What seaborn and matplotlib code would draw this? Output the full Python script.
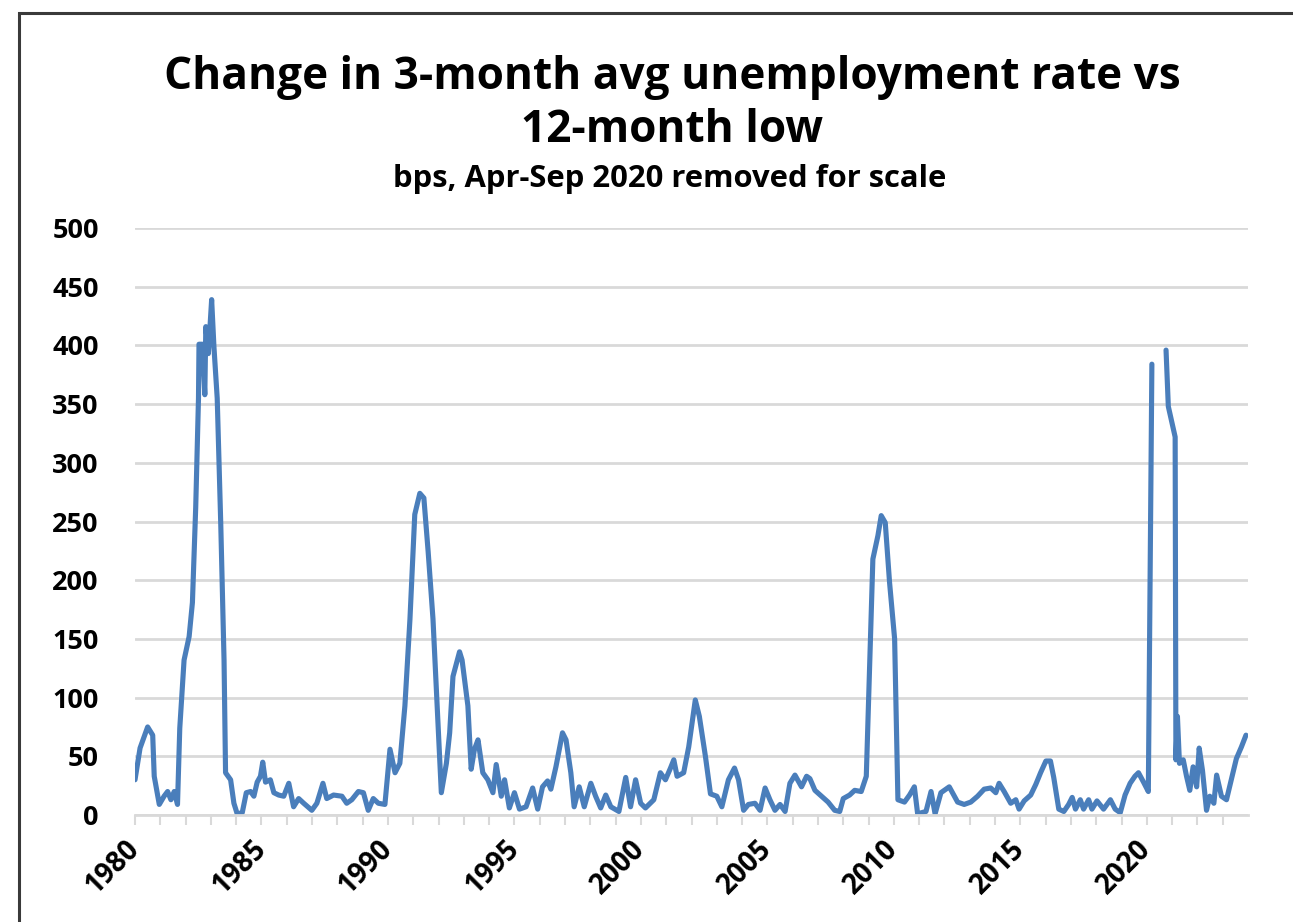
import matplotlib
matplotlib.use('Agg')
import matplotlib.pyplot as plt
import matplotlib.transforms as mtransforms
from matplotlib.patches import Rectangle
import numpy as np
import pandas as pd
import seaborn as sns

TITLE = 'Change in 3-month avg unemployment rate vs\n12-month low'
SUBTITLE = 'bps, Apr-Sep 2020 removed for scale'

# decimal year, value (NaN = Apr-Sep 2020 gap)
years = [
    1980.00, 1980.20, 1980.50, 1980.70, 1980.76, 1980.96, 1981.15, 1981.29,
    1981.42, 1981.55, 1981.68, 1981.77, 1981.94, 1982.14, 1982.27, 1982.40,
    1982.51, 1982.53, 1982.66, 1982.76, 1982.80, 1982.90, 1983.03, 1983.12,
    1983.25, 1983.39, 1983.52, 1983.58, 1983.78, 1983.91, 1984.04, 1984.24,
    1984.40, 1984.57, 1984.70, 1984.83, 1984.96, 1985.05, 1985.16, 1985.35,
    1985.49, 1985.68, 1985.88, 1986.08, 1986.27, 1986.47, 1986.67, 1986.99,
    1987.19, 1987.43, 1987.58, 1987.85, 1988.18, 1988.37, 1988.57, 1988.83,
    1989.03, 1989.22, 1989.42, 1989.62, 1989.88, 1990.08, 1990.28, 1990.47,
    1990.67, 1990.87, 1991.06, 1991.26, 1991.42, 1991.59, 1991.78, 1991.94,
    1992.11, 1992.31, 1992.44, 1992.57, 1992.83, 1992.93, 1993.16, 1993.29,
    1993.42, 1993.56, 1993.75, 1993.95, 1994.15, 1994.28, 1994.48, 1994.61,
    1994.80, 1995.00, 1995.20, 1995.46, 1995.72, 1995.92, 1996.11, 1996.31,
    1996.44, 1996.64, 1996.90, 1997.04, 1997.23, 1997.36, 1997.56, 1997.76,
    1998.02, 1998.21, 1998.41, 1998.61, 1998.81, 1999.13, 1999.40, 1999.59,
    1999.79, 1999.99, 2000.18, 2000.51, 2000.77, 2000.97, 2001.17, 2001.30,
    2001.43, 2001.69, 2001.89, 2002.15, 2002.31, 2002.55, 2002.75, 2003.00,
    2003.20, 2003.46, 2003.70, 2003.86, 2004.06, 2004.25, 2004.51, 2004.71,
    2004.91, 2005.10, 2005.30, 2005.50, 2005.70, 2005.89, 2006.09, 2006.35,
    2006.55, 2006.68, 2006.88, 2007.14, 2007.40, 2007.66, 2007.86, 2008.00,
    2008.25, 2008.45, 2008.71, 2008.91, 2009.04, 2009.17, 2009.37, 2009.50,
    2009.66, 2009.83, 2010.03, 2010.16, 2010.42, 2010.62, 2010.81, 2010.94,
    2011.27, 2011.47, 2011.63, 2011.86, 2012.19, 2012.52, 2012.78, 2013.04,
    2013.31, 2013.57, 2013.83, 2014.03, 2014.16, 2014.36, 2014.62, 2014.82,
    2014.95, 2015.15, 2015.41, 2015.61, 2015.80, 2016.01, 2016.19, 2016.32,
    2016.52, 2016.72, 2016.91, 2017.05, 2017.18, 2017.37, 2017.50, 2017.70,
    2017.83, 2018.03, 2018.29, 2018.56, 2018.75, 2018.95, 2019.14, 2019.34,
    2019.53, 2019.67, 2019.87, 2020.06, 2020.20, 2020.50, 2020.76, 2020.85,
    2021.12, 2021.15, 2021.21, 2021.29, 2021.44, 2021.57, 2021.70, 2021.83,
    2021.97, 2022.07, 2022.20, 2022.36, 2022.49, 2022.65, 2022.76, 2022.95,
    2023.15, 2023.35, 2023.54, 2023.74, 2023.92,
]
bps = [
    30, 57, 75, 68, 33, 9, 16, 20,
    13, 20, 9, 74, 132, 152, 181, 262,
    355, 401, 401, 358, 416, 393, 439, 399,
    355, 248, 132, 36, 30, 10, 1, 2,
    19, 20, 16, 28, 33, 45, 28, 30,
    19, 17, 16, 27, 7, 14, 10, 4,
    10, 27, 14, 17, 16, 10, 13, 20,
    19, 4, 14, 10, 9, 56, 36, 44,
    93, 167, 256, 274, 270, 224, 167, 96,
    19, 44, 70, 118, 139, 132, 93, 39,
    56, 64, 36, 30, 19, 43, 16, 30,
    6, 19, 5, 7, 23, 5, 24, 29,
    22, 41, 70, 64, 36, 7, 24, 7,
    27, 16, 6, 17, 7, 3, 32, 7,
    30, 10, 6, 13, 36, 30, 40, 47,
    33, 36, 58, 98, 84, 50, 18, 16,
    7, 30, 40, 30, 4, 9, 10, 4,
    23, 13, 4, 9, 3, 27, 34, 24,
    33, 31, 21, 16, 11, 4, 3, 14,
    17, 21, 20, 33, 127, 218, 238, 255,
    249, 198, 150, 13, 11, 17, 24, 1,
    3, 20, 1, 19, 24, 11, 9, 11,
    16, 22, 23, 19, 27, 20, 10, 13,
    5, 12, 17, 26, 36, 46, 46, 32,
    5, 3, 9, 15, 5, 13, 5, 13,
    5, 12, 5, 13, 5, 2, 17, 27,
    33, 36, 28, 20, 384, np.nan, 396, 348,
    322, 47, 84, 44, 47, 33, 21, 41,
    24, 57, 38, 4, 16, 10, 34, 16,
    13, 31, 48, 58, 68,
]

y_ticks = [0, 50, 100, 150, 200, 250, 300, 350, 400, 450, 500]
year_ticks = list(range(1980, 2024))
label_years = [1980, 1985, 1990, 1995, 2000, 2005, 2010, 2015, 2020]

LINE_COLOR = '#4a7ebb'
GRID_COLOR = '#d9d9d9'

sns.set_theme(style='white')
plt.rcParams['font.family'] = ['Open Sans', 'DejaVu Sans']
plt.rcParams['text.color'] = 'black'

W, H = 1293, 922
fig = plt.figure(figsize=(W / 100, H / 100), dpi=100)
fig.patch.set_facecolor('white')

# outer frame of the screenshot
fig.patches.append(Rectangle((19 / W, -0.05), 1.2, 1 - 13 / H + 0.05,
                             transform=fig.transFigure, fill=False,
                             edgecolor='#3a3a3a', linewidth=2.2))

ax = fig.add_axes([135 / W, 1 - 815 / H, (1248 - 135) / W, (815 - 228) / H])

df = pd.DataFrame({'year': years, 'bps': bps})
df['segment'] = df['bps'].isna().cumsum()
df = df.dropna()

sns.lineplot(data=df, x='year', y='bps', units='segment', estimator=None,
             color=LINE_COLOR, linewidth=3.7, ax=ax, legend=False)

ax.set_xlim(1980, 2024)
ax.set_ylim(0, 500)
ax.set_xlabel('')
ax.set_ylabel('')

ax.set_yticks(y_ticks)
ax.set_yticklabels([str(v) for v in y_ticks], fontsize=19.5, fontweight='bold')
ax.yaxis.grid(True, color=GRID_COLOR, linewidth=2)
ax.set_axisbelow(True)

# yearly tick marks, rotated labels every 5 years
ax.set_xticks(year_ticks)
ax.set_xticklabels([])
label_trans = (mtransforms.blended_transform_factory(ax.transData, ax.transAxes)
               + mtransforms.ScaledTranslation(0 / 100, -30 / 100,
                                               fig.dpi_scale_trans))
for yr in label_years:
    ax.text(yr, 0, str(yr), transform=label_trans, rotation=45,
            ha='right', va='center', rotation_mode='anchor',
            fontsize=20, fontweight='bold', color='black')

for side in ['left', 'right', 'top']:
    ax.spines[side].set_visible(False)
ax.spines['bottom'].set_color(GRID_COLOR)
ax.spines['bottom'].set_linewidth(2)

ax.tick_params(axis='y', length=0, pad=26, labelcolor='black')
ax.tick_params(axis='x', direction='out', length=7, width=1.5,
               color=GRID_COLOR, bottom=True)

fig.text(672 / W, 1 - 104 / H, TITLE, ha='center', va='center',
         fontsize=31.8, fontweight='bold', linespacing=1.22, color='black')
fig.text(670 / W, 1 - 179 / H, SUBTITLE, ha='center', va='center',
         fontsize=22.3, fontweight='bold', color='black')

fig.savefig('out.png', dpi=100)
